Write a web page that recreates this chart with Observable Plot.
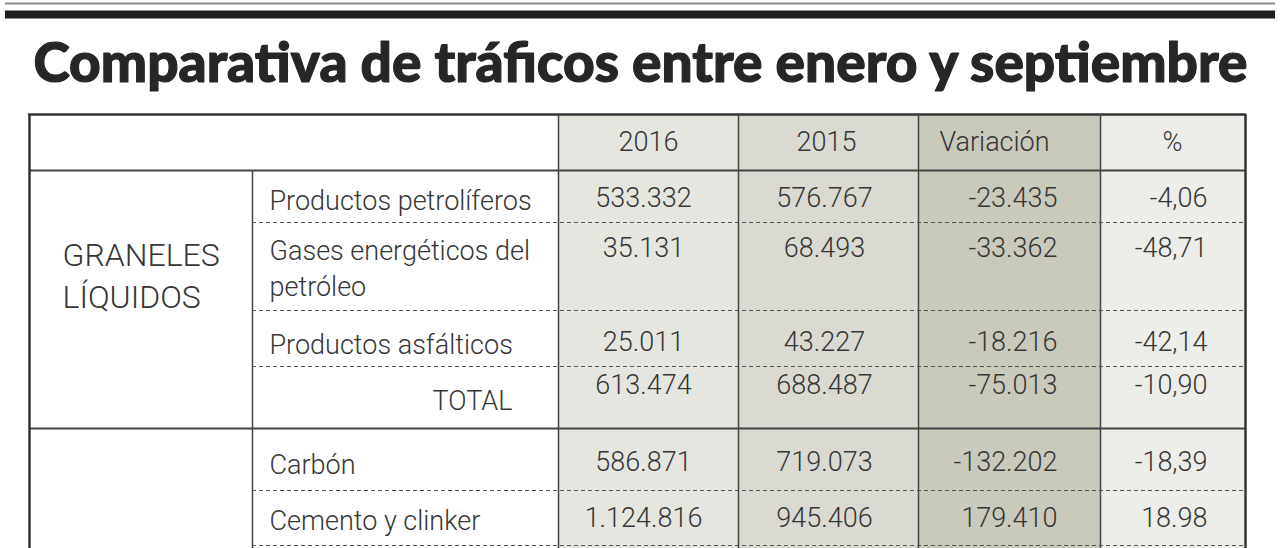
<!DOCTYPE html>
<html><head><meta charset="utf-8">
<script src="https://cdn.jsdelivr.net/npm/d3@7"></script>
<script src="https://cdn.jsdelivr.net/npm/@observablehq/plot@0.6"></script>
<style>body{margin:0;background:#fff;overflow:hidden}</style>
</head><body><div id="chart"></div>
<script>
// ---- data ----
const title = "Comparativa de tráficos entre enero y septiembre";
const headers = ["2016", "2015", "Variación", "%"];
const groupLabel = ["GRANELES", "LÍQUIDOS"];
const products = ["Productos petrolíferos", "Gases energéticos del\npetróleo", "Productos asfálticos", "TOTAL", "Carbón", "Cemento y clinker"];
const values2016 = [533332, 35131, 25011, 613474, 586871, 1124816];
const values2015 = [576767, 68493, 43227, 688487, 719073, 945406];
const variacion = [-23435, -33362, -18216, -75013, -132202, 179410];
const porcentaje = ["-4,06", "-48,71", "-42,14", "-10,90", "-18,39", "18.98"];

// ---- layout ----
const W = 1280, H = 548;
const colEdges = [29, 252, 558, 738, 918, 1100, 1245];
const solidRows = [170, 428];
const dashedRows = [222, 310, 366, 490, 545];
const labelY = [198, 266, 342, 398, 462, 518];
const numY = [198, 248, 342, 385, 462, 518];
const labelX = [269, 269, 269, 432, 269, 269];
const colFill = ["#e6e6e1", "#dadad2", "#c9c9bc", "#ededea"];
const numCols = [
  {vals: values2016, x: 643, anchor: "middle"},
  {vals: values2015, x: 824, anchor: "middle"},
  {vals: variacion, x: 1057, anchor: "end"},
  {vals: porcentaje, x: 1207, anchor: "end"}
];
const headerX = [648, 826, 994, 1172];

const es = d3.formatLocale({decimal: ",", thousands: ".", grouping: [3], currency: ["", " €"]});
const fmt = es.format(",d");
const fmtVal = v => typeof v === "number" ? (v < 0 ? "-" + fmt(-v) : fmt(v)) : v;

const ink = "#363636", line = "#444";
const bodyFont = "Roboto";
const bodyWeight = 300;

const bg = colFill.map((f, i) => ({x1: colEdges[i + 2], x2: colEdges[i + 3], fill: f}));

const numberMarks = numCols.map(c =>
  Plot.text(c.vals, {x: () => c.x, y: (d, i) => numY[i], text: fmtVal, textAnchor: c.anchor,
    fontSize: 27, fontWeight: bodyWeight, fontFamily: bodyFont, fill: ink}));

const chart = Plot.plot({
  width: W, height: H,
  margin: 0,
  x: {type: "identity", axis: null},
  y: {type: "identity", axis: null},
  color: {type: "identity"},
  marks: [
    // top rules
    Plot.ruleY([3], {x1: 5, x2: 1275, stroke: "#8a8a8a", strokeWidth: 2}),
    Plot.ruleY([14], {x1: 5, x2: 1275, stroke: "#1e1e1e", strokeWidth: 8}),
    // title
    Plot.text([title], {x: 640, y: 64, text: d => d, fontSize: 55, fontWeight: 900, fontFamily: "Lato",
      fill: "#262626", stroke: "#262626", strokeWidth: 1.2}),
    // column backgrounds
    Plot.rect(bg, {x1: "x1", x2: "x2", y1: 114, y2: H, fill: "fill"}),
    // dashed separators
    Plot.ruleY(dashedRows, {x1: colEdges[1], x2: colEdges[6], stroke: "#555", strokeWidth: 1.2, strokeDasharray: "4,3"}),
    // solid separators
    Plot.ruleY(solidRows, {x1: colEdges[0], x2: colEdges[6], stroke: line, strokeWidth: 2}),
    Plot.ruleY([114], {x1: colEdges[0] - 1, x2: colEdges[6] + 1, stroke: "#333", strokeWidth: 2.5}),
    // vertical lines
    Plot.ruleX([colEdges[0], colEdges[6]], {y1: 114, y2: H, stroke: "#333", strokeWidth: 2.5}),
    Plot.ruleX([colEdges[1]], {y1: 170, y2: H, stroke: line, strokeWidth: 1.5}),
    Plot.ruleX(colEdges.slice(2, 6), {y1: 114, y2: H, stroke: line, strokeWidth: 1.5}),
    // header
    Plot.text(headers, {x: (d, i) => headerX[i], y: 142, text: d => d, fontSize: 27, fontWeight: bodyWeight, fontFamily: bodyFont, fill: ink}),
    // group label
    Plot.text(groupLabel, {x: 62, y: (d, i) => 255 + i * 42, text: d => d, textAnchor: "start", fontSize: 32, fontWeight: bodyWeight, fontFamily: bodyFont, fill: ink}),
    // product labels
    Plot.text(products, {x: (d, i) => labelX[i], y: (d, i) => labelY[i], text: d => d, textAnchor: "start", lineHeight: 1.33, fontSize: 27, fontWeight: bodyWeight, fontFamily: bodyFont, fill: ink}),
    // numbers
    ...numberMarks
  ]
});
document.getElementById("chart").append(chart);
// condense the title to the headline width
d3.select(chart).selectAll("text").filter(function () { return this.textContent === title; })
  .attr("textLength", 1214).attr("lengthAdjust", "spacingAndGlyphs");
</script>
</body></html>
